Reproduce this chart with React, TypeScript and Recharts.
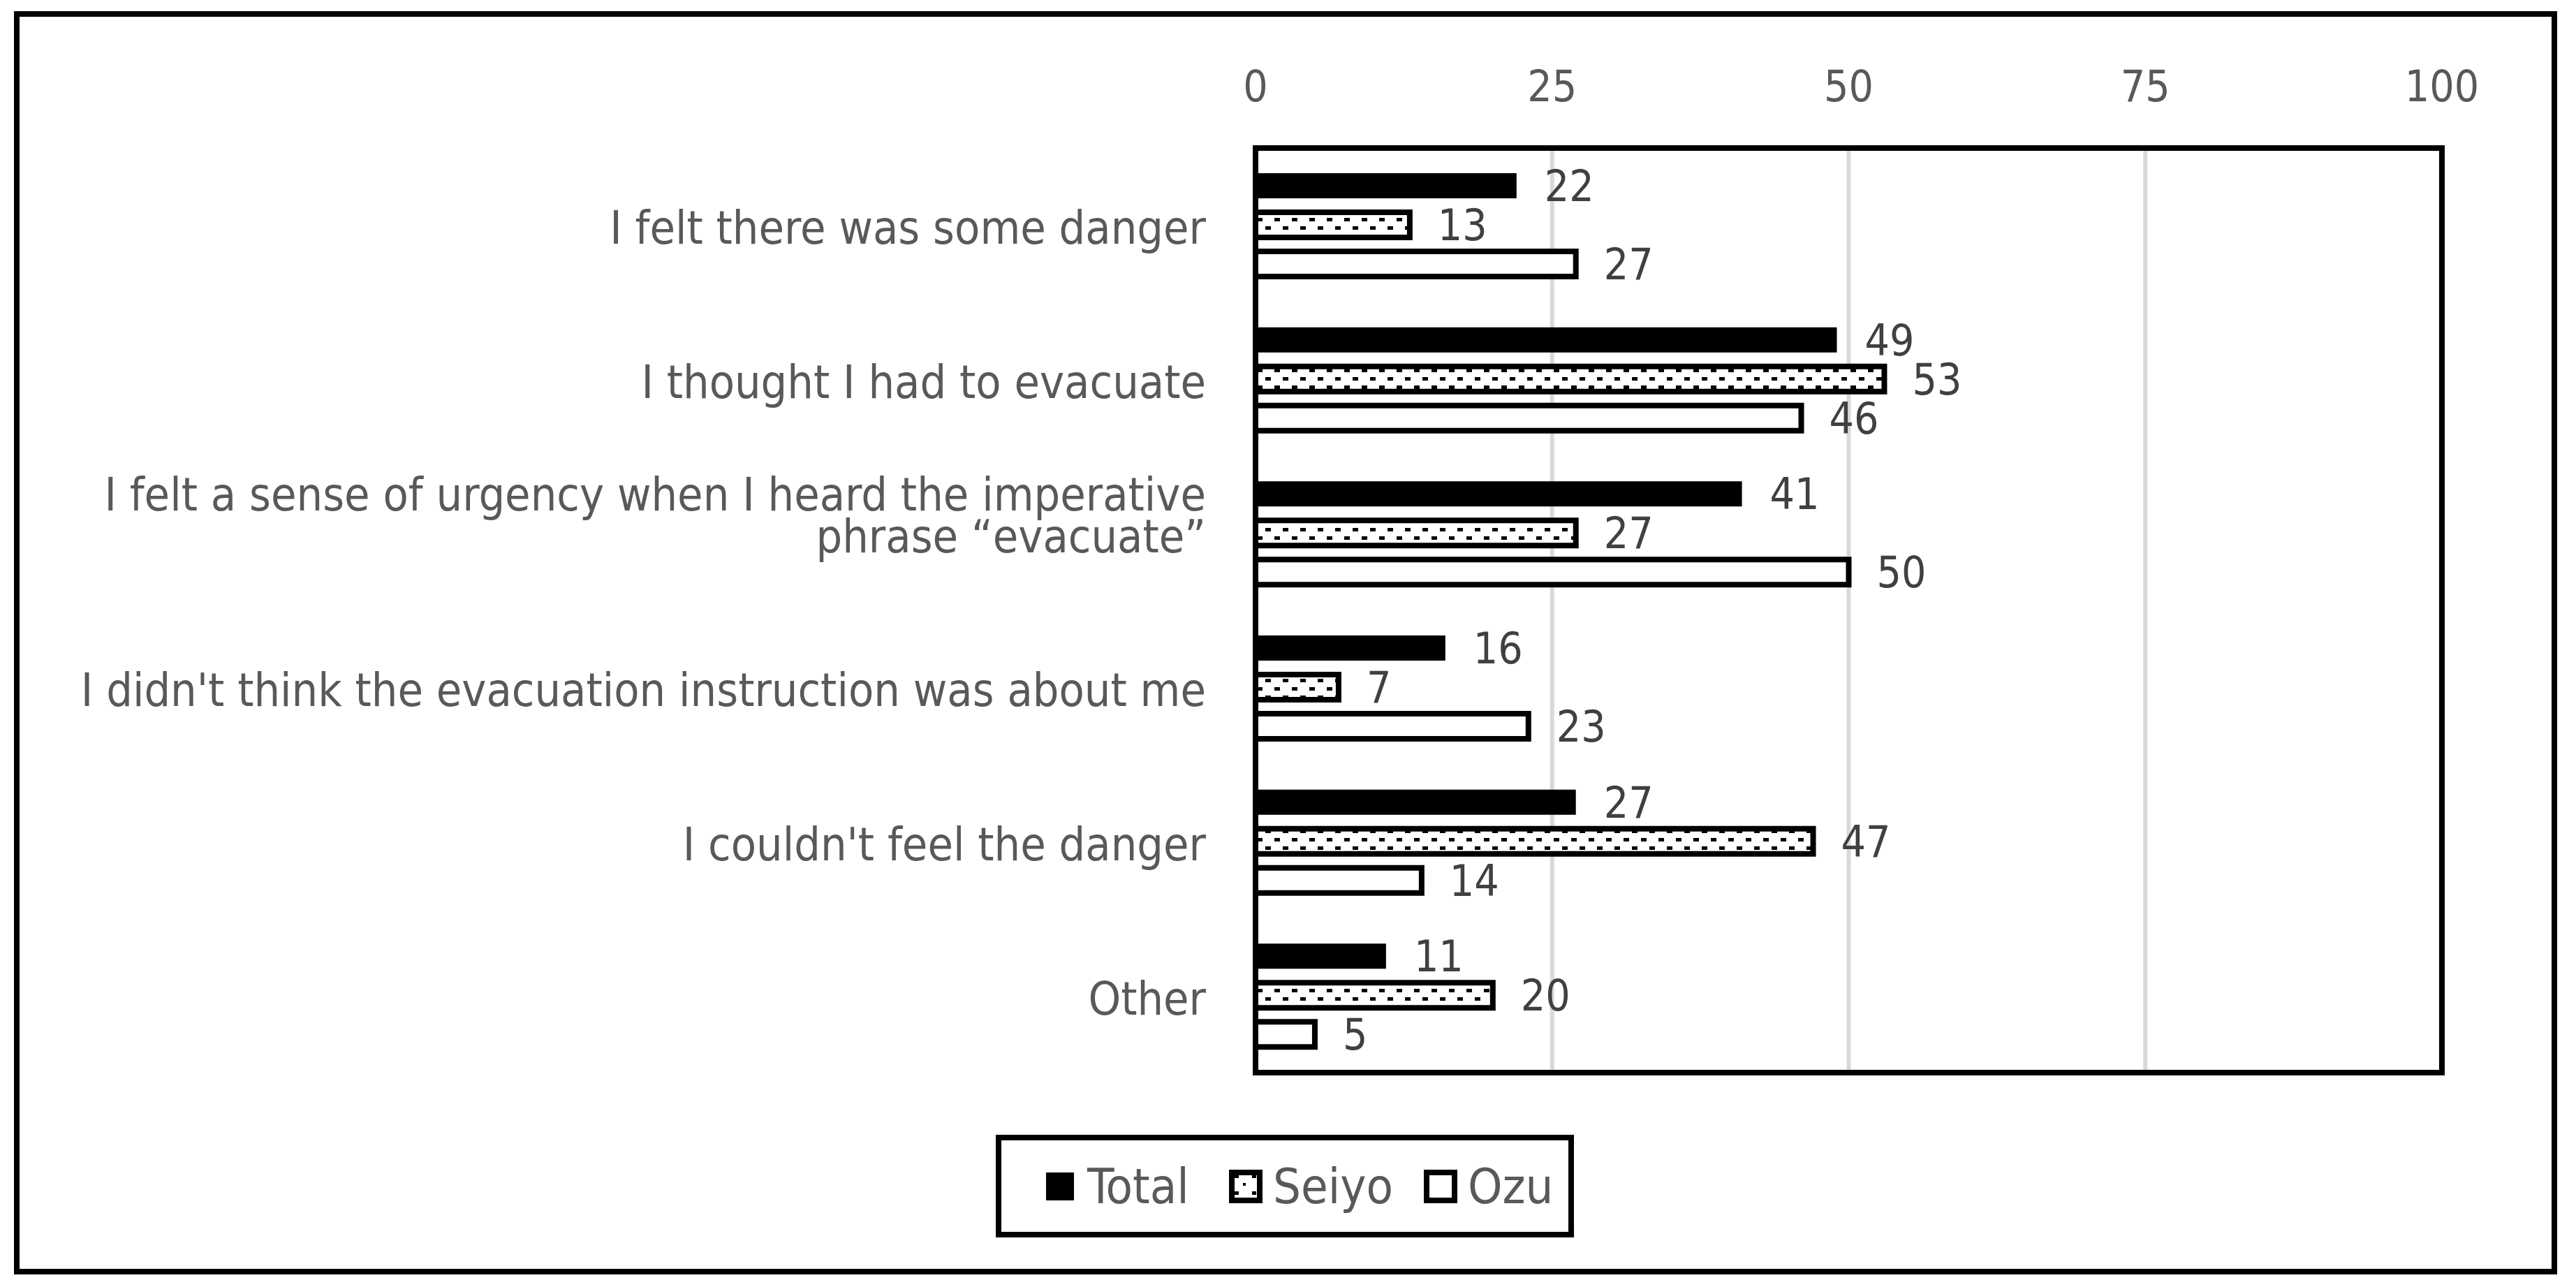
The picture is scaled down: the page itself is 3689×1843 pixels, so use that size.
import { BarChart, Bar, XAxis, YAxis, CartesianGrid, ReferenceArea, LabelList } from 'recharts'

const categories = [
  'I felt there was some danger',
  'I thought I had to evacuate',
  'I felt a sense of urgency when I heard the imperative\nphrase “evacuate”',
  "I didn't think the evacuation instruction was about me",
  "I couldn't feel the danger",
  'Other',
]
const totalValues = [22, 49, 41, 16, 27, 11]
const seiyoValues = [13, 53, 27, 7, 47, 20]
const ozuValues = [27, 46, 50, 23, 14, 5]
const xTicks = [0, 25, 50, 75, 100]

const data = categories.map((label, i) => ({
  label,
  total: totalValues[i],
  seiyo: seiyoValues[i],
  ozu: ozuValues[i],
}))

const FONT = "'Liberation Sans Narrow', 'DejaVu Sans Condensed', 'Liberation Sans', sans-serif"
const NUM_SIZE = 62
const CAT_SIZE = 66
const LEGEND_SIZE = 70
const TEXT_GREY = '#595959'

function ValueTick({ x, y, payload }: any) {
  return (
    <text x={x} y={y} textAnchor="middle" fill={TEXT_GREY} fontSize={NUM_SIZE} fontFamily={FONT}>
      {payload.value}
    </text>
  )
}

function CategoryTick({ x, y, payload }: any) {
  const lines = String(payload.value).split('\n')
  // the last line sits on the band centre, earlier lines stack above it
  return (
    <g>
      {lines.map((line, i) => (
        <text
          key={i}
          x={x}
          y={y + 4 + (i - (lines.length - 1)) * 60}
          dy={CAT_SIZE * 0.35}
          textAnchor="end"
          fill={TEXT_GREY}
          fontSize={CAT_SIZE}
          fontFamily={FONT}
        >
          {line}
        </text>
      ))}
    </g>
  )
}

function DotSwatch({ fill }: { fill: string }) {
  return (
    <svg width={50} height={50} style={{ display: 'block' }}>
      <defs>
        <pattern id="legendDots" width={25} height={24} patternUnits="userSpaceOnUse">
          <rect x={0} y={0} width={25} height={24} fill="#fff" />
          <rect x={9} y={8} width={6} height={5} fill="#000" />
          <rect x={21} y={20} width={6} height={5} fill="#000" />
        </pattern>
      </defs>
      <rect x={5} y={5} width={40} height={40} fill={fill} stroke="#000" strokeWidth={8} />
    </svg>
  )
}

function LegendBox() {
  const item = (left: number, swatch: React.ReactNode, text: string) => (
    <div style={{ position: 'absolute', left, top: 0, height: '100%', display: 'flex', alignItems: 'center' }}>
      {swatch}
      <span style={{ marginLeft: 14, fontFamily: FONT, fontSize: LEGEND_SIZE, color: TEXT_GREY, lineHeight: 1 }}>{text}</span>
    </div>
  )
  return (
    <div
      style={{
        position: 'absolute',
        left: 1426,
        top: 1625,
        width: 828,
        height: 147,
        border: '8px solid #000',
        boxSizing: 'border-box',
        background: '#fff',
      }}
    >
      {item(59, <div style={{ width: 40, height: 40, background: '#000', margin: 5 }} />, 'Total')}
      {item(325, <DotSwatch fill="url(#legendDots)" />, 'Seiyo')}
      {item(604, <DotSwatch fill="#fff" />, 'Ozu')}
    </div>
  )
}

export default function App() {
  return (
    <div style={{ position: 'absolute', left: 0, top: 0, width: 3689, height: 1843, background: '#fff' }}>
      <div
        style={{
          position: 'absolute',
          left: 20,
          top: 16,
          width: 3642,
          height: 1809,
          border: '8px solid #000',
          boxSizing: 'border-box',
        }}
      />
      <div style={{ position: 'absolute', left: 0, top: 0 }}>
        <BarChart
          width={3689}
          height={1843}
          data={data}
          layout="vertical"
          margin={{ top: 20, right: 192, bottom: 307, left: 20 }}
          barSize={36}
          barGap={20}
        >
          <defs>
            <pattern id="seiyoDots" width={25} height={24} patternUnits="userSpaceOnUse">
              <rect x={0} y={0} width={25} height={24} fill="#fff" />
              <rect x={0} y={0} width={8} height={5} fill="#000" />
              <rect x={12} y={12} width={8} height={5} fill="#000" />
            </pattern>
          </defs>
          <CartesianGrid horizontal={false} stroke="#d9d9d9" strokeWidth={6} />
          <XAxis
            type="number"
            orientation="top"
            domain={[0, 100]}
            ticks={xTicks}
            axisLine={false}
            tickLine={false}
            tickSize={0}
            tickMargin={67}
            height={192}
            tick={<ValueTick />}
          />
          <YAxis
            type="category"
            dataKey="label"
            width={1778}
            axisLine={false}
            tickLine={false}
            tickSize={0}
            tickMargin={71}
            interval={0}
            tick={<CategoryTick />}
          />
          <Bar dataKey="total" name="Total" fill="#000" isAnimationActive={false}>
            <LabelList dataKey="total" position="right" offset={40} fill="#404040" fontSize={NUM_SIZE} fontFamily={FONT} />
          </Bar>
          <Bar dataKey="seiyo" name="Seiyo" fill="url(#seiyoDots)" stroke="#000" strokeWidth={8} isAnimationActive={false}>
            <LabelList dataKey="seiyo" position="right" offset={40} fill="#404040" fontSize={NUM_SIZE} fontFamily={FONT} />
          </Bar>
          <Bar dataKey="ozu" name="Ozu" fill="#fff" stroke="#000" strokeWidth={8} isAnimationActive={false}>
            <LabelList dataKey="ozu" position="right" offset={40} fill="#404040" fontSize={NUM_SIZE} fontFamily={FONT} />
          </Bar>
          <ReferenceArea x1={0} x2={100} fill="none" stroke="#000" strokeWidth={8} fillOpacity={0} />
        </BarChart>
      </div>
      <LegendBox />
    </div>
  )
}
